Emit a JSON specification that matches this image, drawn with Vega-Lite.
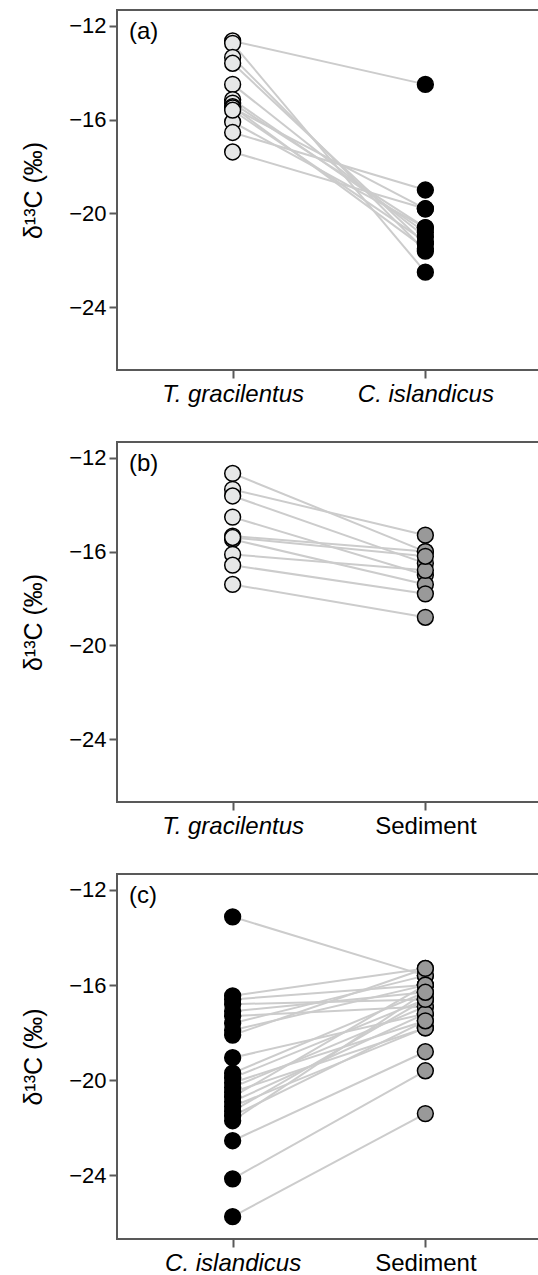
{
  "$schema": "https://vega.github.io/schema/vega-lite/v6.json",
  "padding": {"left": 20, "top": 9, "right": 0, "bottom": 40},
  "background": "white",
  "config": {
    "font": "Liberation Sans",
    "view": {"stroke": "#595959", "strokeWidth": 2},
    "axis": {
      "domain": false, "grid": false,
      "tickColor": "#595959", "tickWidth": 2, "tickSize": 8,
      "labelColor": "black", "labelFontSize": 22, "labelFont": "Liberation Sans",
      "titleColor": "black", "titleFontSize": 25, "titleFont": "Liberation Sans", "titleFontWeight": "normal"
    },
    "title": {"fontSize": 24, "fontWeight": "normal", "font": "Liberation Sans", "color": "black"}
  },
  "datasets": {
    "pts": [
      {"p": "a", "id": 1, "g": "T. gracilentus", "t": "T", "v": -12.65},
      {"p": "a", "id": 1, "g": "C. islandicus", "t": "C", "v": -14.5},
      {"p": "a", "id": 2, "g": "T. gracilentus", "t": "T", "v": -12.75},
      {"p": "a", "id": 2, "g": "C. islandicus", "t": "C", "v": -22.5},
      {"p": "a", "id": 3, "g": "T. gracilentus", "t": "T", "v": -13.35},
      {"p": "a", "id": 3, "g": "C. islandicus", "t": "C", "v": -21.6},
      {"p": "a", "id": 4, "g": "T. gracilentus", "t": "T", "v": -13.6},
      {"p": "a", "id": 4, "g": "C. islandicus", "t": "C", "v": -21.3},
      {"p": "a", "id": 5, "g": "T. gracilentus", "t": "T", "v": -14.5},
      {"p": "a", "id": 5, "g": "C. islandicus", "t": "C", "v": -21.0},
      {"p": "a", "id": 6, "g": "T. gracilentus", "t": "T", "v": -15.15},
      {"p": "a", "id": 6, "g": "C. islandicus", "t": "C", "v": -20.8},
      {"p": "a", "id": 7, "g": "T. gracilentus", "t": "T", "v": -15.3},
      {"p": "a", "id": 7, "g": "C. islandicus", "t": "C", "v": -20.6},
      {"p": "a", "id": 8, "g": "T. gracilentus", "t": "T", "v": -15.45},
      {"p": "a", "id": 8, "g": "C. islandicus", "t": "C", "v": -21.5},
      {"p": "a", "id": 9, "g": "T. gracilentus", "t": "T", "v": -15.5},
      {"p": "a", "id": 9, "g": "C. islandicus", "t": "C", "v": -19.8},
      {"p": "a", "id": 10, "g": "T. gracilentus", "t": "T", "v": -16.1},
      {"p": "a", "id": 10, "g": "C. islandicus", "t": "C", "v": -20.6},
      {"p": "a", "id": 11, "g": "T. gracilentus", "t": "T", "v": -16.55},
      {"p": "a", "id": 11, "g": "C. islandicus", "t": "C", "v": -19.0},
      {"p": "a", "id": 12, "g": "T. gracilentus", "t": "T", "v": -17.38},
      {"p": "a", "id": 12, "g": "C. islandicus", "t": "C", "v": -19.8},
      {"p": "a", "id": 13, "g": "T. gracilentus", "t": "T", "v": -15.6},
      {"p": "a", "id": 13, "g": "C. islandicus", "t": "C", "v": -21.2},

      {"p": "b", "id": 1, "g": "T. gracilentus", "t": "T", "v": -12.67},
      {"p": "b", "id": 1, "g": "Sediment", "t": "S", "v": -16.0},
      {"p": "b", "id": 2, "g": "T. gracilentus", "t": "T", "v": -13.35},
      {"p": "b", "id": 2, "g": "Sediment", "t": "S", "v": -15.3},
      {"p": "b", "id": 3, "g": "T. gracilentus", "t": "T", "v": -13.63},
      {"p": "b", "id": 3, "g": "Sediment", "t": "S", "v": -16.5},
      {"p": "b", "id": 4, "g": "T. gracilentus", "t": "T", "v": -14.53},
      {"p": "b", "id": 4, "g": "Sediment", "t": "S", "v": -17.0},
      {"p": "b", "id": 5, "g": "T. gracilentus", "t": "T", "v": -15.34},
      {"p": "b", "id": 5, "g": "Sediment", "t": "S", "v": -16.0},
      {"p": "b", "id": 6, "g": "T. gracilentus", "t": "T", "v": -15.48},
      {"p": "b", "id": 6, "g": "Sediment", "t": "S", "v": -17.4},
      {"p": "b", "id": 7, "g": "T. gracilentus", "t": "T", "v": -16.12},
      {"p": "b", "id": 7, "g": "Sediment", "t": "S", "v": -16.8},
      {"p": "b", "id": 8, "g": "T. gracilentus", "t": "T", "v": -16.58},
      {"p": "b", "id": 8, "g": "Sediment", "t": "S", "v": -17.8},
      {"p": "b", "id": 9, "g": "T. gracilentus", "t": "T", "v": -17.4},
      {"p": "b", "id": 9, "g": "Sediment", "t": "S", "v": -18.8},
      {"p": "b", "id": 10, "g": "T. gracilentus", "t": "T", "v": -15.4},
      {"p": "b", "id": 10, "g": "Sediment", "t": "S", "v": -16.2},

      {"p": "c", "id": 1, "g": "C. islandicus", "t": "C", "v": -13.13},
      {"p": "c", "id": 1, "g": "Sediment", "t": "S", "v": -15.6},
      {"p": "c", "id": 2, "g": "C. islandicus", "t": "C", "v": -16.45},
      {"p": "c", "id": 2, "g": "Sediment", "t": "S", "v": -15.3},
      {"p": "c", "id": 3, "g": "C. islandicus", "t": "C", "v": -16.6},
      {"p": "c", "id": 3, "g": "Sediment", "t": "S", "v": -16.0},
      {"p": "c", "id": 4, "g": "C. islandicus", "t": "C", "v": -16.8},
      {"p": "c", "id": 4, "g": "Sediment", "t": "S", "v": -16.6},
      {"p": "c", "id": 5, "g": "C. islandicus", "t": "C", "v": -17.1},
      {"p": "c", "id": 5, "g": "Sediment", "t": "S", "v": -16.3},
      {"p": "c", "id": 6, "g": "C. islandicus", "t": "C", "v": -17.3},
      {"p": "c", "id": 6, "g": "Sediment", "t": "S", "v": -16.9},
      {"p": "c", "id": 7, "g": "C. islandicus", "t": "C", "v": -17.6},
      {"p": "c", "id": 7, "g": "Sediment", "t": "S", "v": -15.6},
      {"p": "c", "id": 8, "g": "C. islandicus", "t": "C", "v": -17.9},
      {"p": "c", "id": 8, "g": "Sediment", "t": "S", "v": -16.0},
      {"p": "c", "id": 9, "g": "C. islandicus", "t": "C", "v": -18.1},
      {"p": "c", "id": 9, "g": "Sediment", "t": "S", "v": -15.3},
      {"p": "c", "id": 10, "g": "C. islandicus", "t": "C", "v": -19.05},
      {"p": "c", "id": 10, "g": "Sediment", "t": "S", "v": -17.2},
      {"p": "c", "id": 11, "g": "C. islandicus", "t": "C", "v": -19.7},
      {"p": "c", "id": 11, "g": "Sediment", "t": "S", "v": -16.3},
      {"p": "c", "id": 12, "g": "C. islandicus", "t": "C", "v": -19.9},
      {"p": "c", "id": 12, "g": "Sediment", "t": "S", "v": -16.6},
      {"p": "c", "id": 13, "g": "C. islandicus", "t": "C", "v": -20.1},
      {"p": "c", "id": 13, "g": "Sediment", "t": "S", "v": -17.5},
      {"p": "c", "id": 14, "g": "C. islandicus", "t": "C", "v": -20.3},
      {"p": "c", "id": 14, "g": "Sediment", "t": "S", "v": -16.9},
      {"p": "c", "id": 15, "g": "C. islandicus", "t": "C", "v": -20.5},
      {"p": "c", "id": 15, "g": "Sediment", "t": "S", "v": -17.8},
      {"p": "c", "id": 16, "g": "C. islandicus", "t": "C", "v": -20.7},
      {"p": "c", "id": 16, "g": "Sediment", "t": "S", "v": -16.0},
      {"p": "c", "id": 17, "g": "C. islandicus", "t": "C", "v": -20.9},
      {"p": "c", "id": 17, "g": "Sediment", "t": "S", "v": -17.2},
      {"p": "c", "id": 18, "g": "C. islandicus", "t": "C", "v": -21.1},
      {"p": "c", "id": 18, "g": "Sediment", "t": "S", "v": -17.8},
      {"p": "c", "id": 19, "g": "C. islandicus", "t": "C", "v": -21.3},
      {"p": "c", "id": 19, "g": "Sediment", "t": "S", "v": -16.6},
      {"p": "c", "id": 20, "g": "C. islandicus", "t": "C", "v": -21.5},
      {"p": "c", "id": 20, "g": "Sediment", "t": "S", "v": -17.5},
      {"p": "c", "id": 21, "g": "C. islandicus", "t": "C", "v": -21.7},
      {"p": "c", "id": 21, "g": "Sediment", "t": "S", "v": -16.3},
      {"p": "c", "id": 22, "g": "C. islandicus", "t": "C", "v": -22.54},
      {"p": "c", "id": 22, "g": "Sediment", "t": "S", "v": -18.8},
      {"p": "c", "id": 23, "g": "C. islandicus", "t": "C", "v": -24.14},
      {"p": "c", "id": 23, "g": "Sediment", "t": "S", "v": -19.6},
      {"p": "c", "id": 24, "g": "C. islandicus", "t": "C", "v": -25.73},
      {"p": "c", "id": 24, "g": "Sediment", "t": "S", "v": -21.4}
    ]
  },
  "vconcat": [
    {
      "width": 424, "height": 360,
      "title": {"text": "(a)", "anchor": "start", "frame": "group", "orient": "top", "offset": -32, "dy": 21, "dx": 12, "baseline": "alphabetic"},
      "data": {"name": "pts"},
      "transform": [{"filter": "datum.p == 'a'"}],
      "encoding": {
        "x": {"field": "g", "type": "nominal", "sort": ["T. gracilentus", "C. islandicus"], "scale": {"type": "point", "padding": 0.6},
              "axis": {"title": null, "labelAngle": 0, "labelFontStyle": "italic", "labelFontSize": 24, "labelPadding": 4}},
        "y": {"field": "v", "type": "quantitative", "scale": {"domain": [-26.67, -11.33], "nice": false, "zero": false},
              "axis": {"title": "δ¹³C (‰)", "values": [-12, -16, -20, -24], "titlePadding": 22, "labelPadding": 3}}
      },
      "layer": [
        {"mark": {"type": "line", "color": "#cccccc", "strokeWidth": 2}, "encoding": {"detail": {"field": "id"}}},
        {"mark": {"type": "point", "filled": true, "shape": "circle", "size": 250, "stroke": "black", "strokeWidth": 1.5, "opacity": 1},
         "encoding": {"fill": {"field": "t", "type": "nominal", "scale": {"domain": ["T", "C", "S"], "range": ["#e6e7e7", "#000000", "#999999"]}, "legend": null}}}
      ]
    },
    {
      "width": 424, "height": 360,
      "title": {"text": "(b)", "anchor": "start", "frame": "group", "orient": "top", "offset": -32, "dy": 21, "dx": 12, "baseline": "alphabetic"},
      "data": {"name": "pts"},
      "transform": [{"filter": "datum.p == 'b'"}],
      "encoding": {
        "x": {"field": "g", "type": "nominal", "sort": ["T. gracilentus", "Sediment"], "scale": {"type": "point", "padding": 0.6},
              "axis": {"title": null, "labelAngle": 0, "labelFontSize": 24, "labelPadding": 4,
                       "labelFontStyle": {"condition": {"test": "datum.value == 'Sediment'", "value": "normal"}, "value": "italic"}}},
        "y": {"field": "v", "type": "quantitative", "scale": {"domain": [-26.67, -11.33], "nice": false, "zero": false},
              "axis": {"title": "δ¹³C (‰)", "values": [-12, -16, -20, -24], "titlePadding": 22, "labelPadding": 3}}
      },
      "layer": [
        {"mark": {"type": "line", "color": "#cccccc", "strokeWidth": 2}, "encoding": {"detail": {"field": "id"}}},
        {"mark": {"type": "point", "filled": true, "shape": "circle", "size": 250, "stroke": "black", "strokeWidth": 1.5, "opacity": 1},
         "encoding": {"fill": {"field": "t", "type": "nominal", "scale": {"domain": ["T", "C", "S"], "range": ["#e6e7e7", "#000000", "#999999"]}, "legend": null}}}
      ]
    },
    {
      "width": 424, "height": 365,
      "title": {"text": "(c)", "anchor": "start", "frame": "group", "orient": "top", "offset": -32, "dy": 21, "dx": 12, "baseline": "alphabetic"},
      "data": {"name": "pts"},
      "transform": [{"filter": "datum.p == 'c'"}],
      "encoding": {
        "x": {"field": "g", "type": "nominal", "sort": ["C. islandicus", "Sediment"], "scale": {"type": "point", "padding": 0.6},
              "axis": {"title": null, "labelAngle": 0, "labelFontSize": 24, "labelPadding": 4,
                       "labelFontStyle": {"condition": {"test": "datum.value == 'Sediment'", "value": "normal"}, "value": "italic"}}},
        "y": {"field": "v", "type": "quantitative", "scale": {"domain": [-26.67, -11.33], "nice": false, "zero": false},
              "axis": {"title": "δ¹³C (‰)", "values": [-12, -16, -20, -24], "titlePadding": 22, "labelPadding": 3}}
      },
      "layer": [
        {"mark": {"type": "line", "color": "#cccccc", "strokeWidth": 2}, "encoding": {"detail": {"field": "id"}}},
        {"mark": {"type": "point", "filled": true, "shape": "circle", "size": 250, "stroke": "black", "strokeWidth": 1.5, "opacity": 1},
         "encoding": {"fill": {"field": "t", "type": "nominal", "scale": {"domain": ["T", "C", "S"], "range": ["#e6e7e7", "#000000", "#999999"]}, "legend": null}}}
      ]
    }
  ],
  "spacing": 72,
  "bounds": "flush",
  "resolve": {"scale": {"x": "independent"}}
}
